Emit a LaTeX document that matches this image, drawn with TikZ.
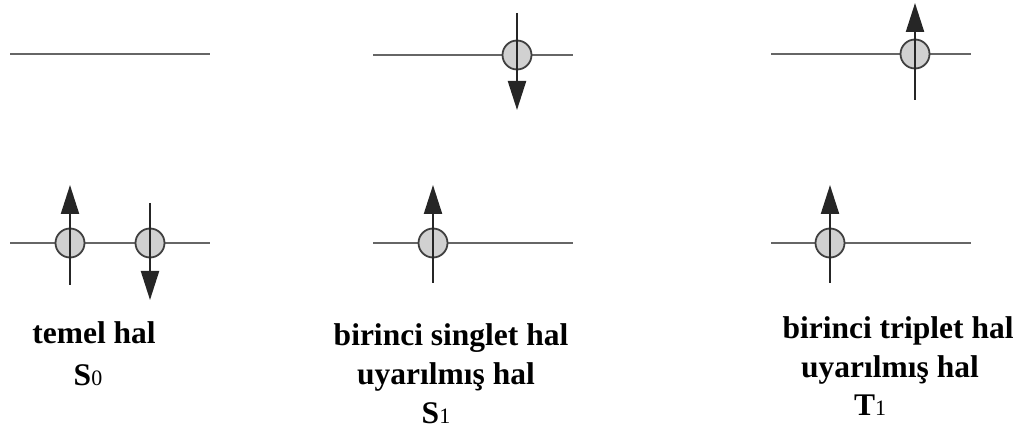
\documentclass[tikz,border=0pt]{standalone}
\usepackage{fontspec}
\setmainfont{Liberation Serif}
\usetikzlibrary{arrows.meta}
\tikzset{
  level/.style={draw=black!60, line width=2.6pt},
  electron/.style={circle, draw=black!75, line width=1.8pt, fill=black!18, minimum size=29pt, inner sep=0pt},
  spin/.style={draw=black!85, line width=2.2pt, -{Triangle[width=18pt,length=29pt]}},
  lbl/.style={font=\fontsize{31.5}{36}\selectfont\bfseries, anchor=base, inner sep=0pt},
}
\newcommand{\subdig}[1]{{\fontsize{22}{24}\selectfont\mdseries #1}}
\begin{document}
\begin{tikzpicture}[x=1pt,y=-1pt]
\useasboundingbox (0,0) rectangle (1019,435);
% ---------- left column: S0 ----------
\coordinate (l1a) at (10,54); \coordinate (l1b) at (210,54);
\draw[level] (l1a) -- (l1b);
\coordinate (l0a) at (10,243); \coordinate (l0b) at (210,243);
\draw[level] (l0a) -- (l0b);
\node[electron] (e1) at (70,243) {};
\node[electron] (e2) at (150,243) {};
\coordinate (e1s) at (70,285); \coordinate (e1t) at (70,185);
\coordinate (e2s) at (150,203); \coordinate (e2t) at (150,300);
\draw[spin] (e1s) -- (e1t);
\draw[spin] (e2s) -- (e2t);
\node[lbl] (t1) at (94,343) {temel hal};
\node[lbl] (t2) at (88,385) {S\subdig{0}};
% ---------- middle column: S1 ----------
\coordinate (m1a) at (373,55); \coordinate (m1b) at (573,55);
\draw[level] (m1a) -- (m1b);
\coordinate (m0a) at (373,243); \coordinate (m0b) at (573,243);
\draw[level] (m0a) -- (m0b);
\node[electron] (e3) at (517,55) {};
\node[electron] (e4) at (433,243) {};
\coordinate (e3s) at (517,13); \coordinate (e3t) at (517,110);
\coordinate (e4s) at (433,283); \coordinate (e4t) at (433,185);
\draw[spin] (e3s) -- (e3t);
\draw[spin] (e4s) -- (e4t);
\node[lbl] (m1) at (451,345) {birinci singlet hal};
\node[lbl] (m2) at (446,384) {uyarılmış hal};
\node[lbl] (m3) at (436,423) {S\subdig{1}};
% ---------- right column: T1 ----------
\coordinate (r1a) at (771,54); \coordinate (r1b) at (971,54);
\draw[level] (r1a) -- (r1b);
\coordinate (r0a) at (771,243); \coordinate (r0b) at (971,243);
\draw[level] (r0a) -- (r0b);
\node[electron] (e5) at (915,54) {};
\node[electron] (e6) at (830,243) {};
\coordinate (e5s) at (915,100); \coordinate (e5t) at (915,3);
\coordinate (e6s) at (830,283); \coordinate (e6t) at (830,185);
\draw[spin] (e5s) -- (e5t);
\draw[spin] (e6s) -- (e6t);
\node[lbl] (r1) at (898,338) {birinci triplet hal};
\node[lbl] (r2) at (890,377) {uyarılmış hal};
\node[lbl] (r3) at (870,415) {T\subdig{1}};
\end{tikzpicture}
\end{document}
